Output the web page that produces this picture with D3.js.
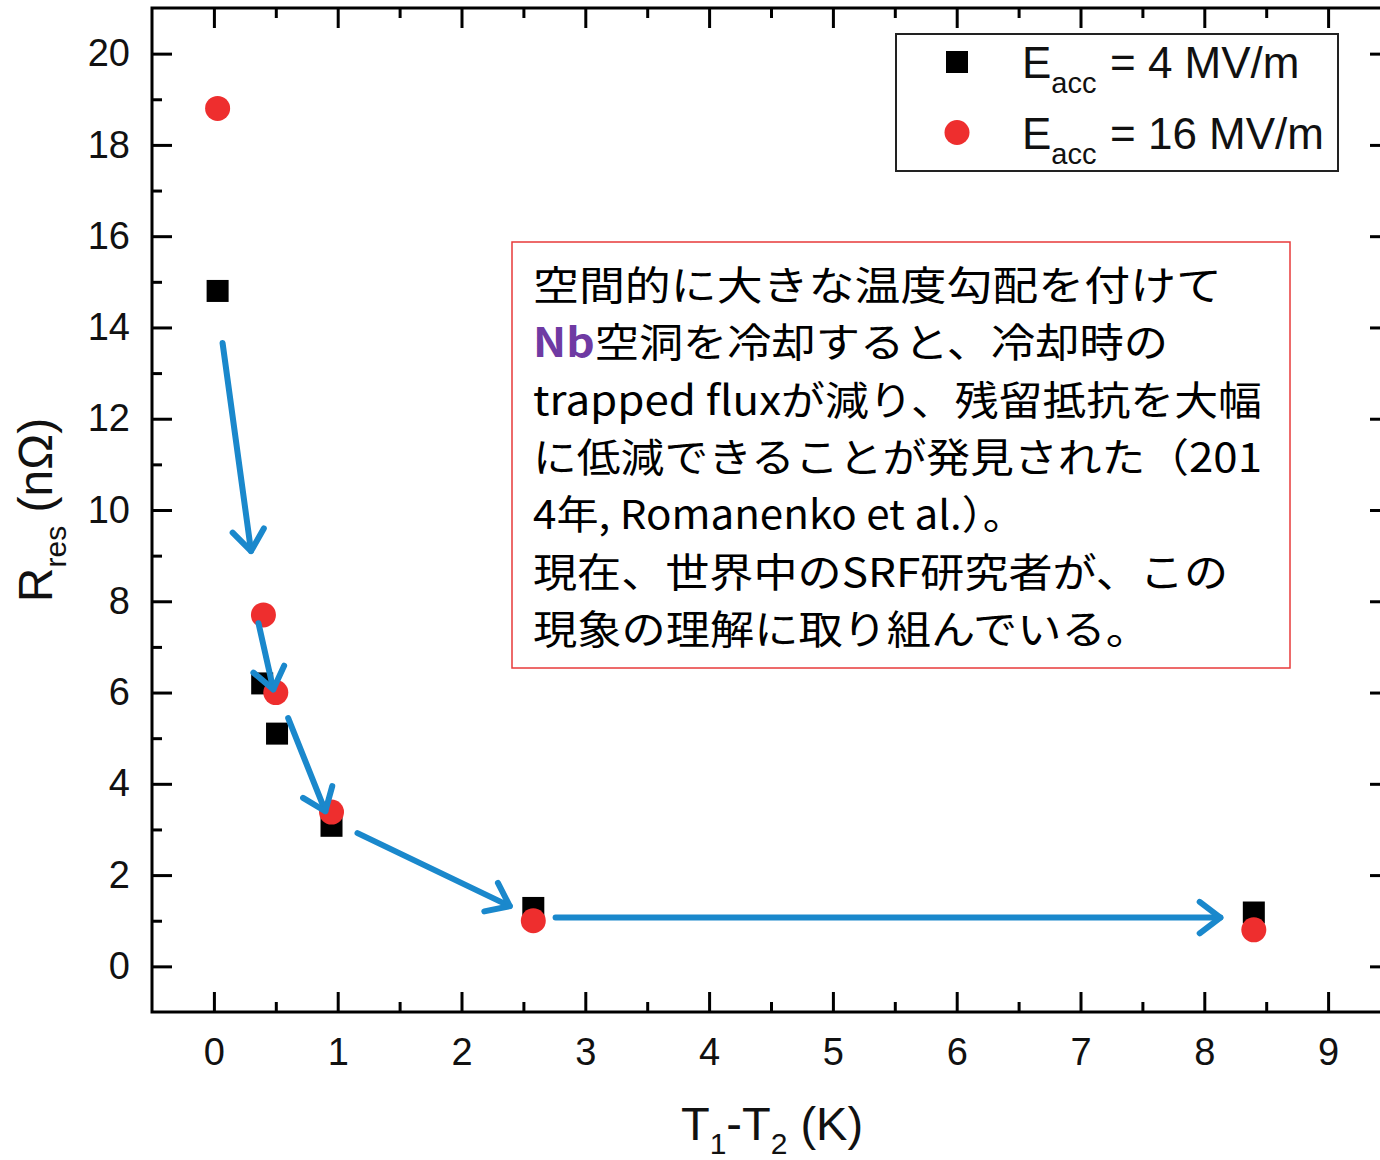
<!DOCTYPE html>
<html>
<head>
<meta charset="utf-8">
<script src="https://cdn.jsdelivr.net/npm/d3@7"></script>
<style>
  html, body { margin: 0; padding: 0; background: #fff; }
  svg { display: block; }
</style>
</head>
<body>
<script>
// ---- data ----
const sqX = [0.03, 0.39, 0.51, 0.95, 2.58, 8.40];          // E_acc = 4 MV/m
const sqY = [14.8, 6.2, 5.1, 3.08, 1.28, 1.18];
const ciX = [0.03, 0.40, 0.50, 0.95, 2.58, 8.40];          // E_acc = 16 MV/m
const ciY = [18.8, 7.7, 6.0, 3.38, 1.0, 0.8];
const xTicks = [0, 1, 2, 3, 4, 5, 6, 7, 8, 9];
const xMinor = [0.5, 1.5, 2.5, 3.5, 4.5, 5.5, 6.5, 7.5, 8.5];
const yTicks = [0, 2, 4, 6, 8, 10, 12, 14, 16, 18, 20];
const yMinor = [1, 3, 5, 7, 9, 11, 13, 15, 17, 19];
const legendLabels = ["= 4 MV/m", "= 16 MV/m"];
// annotation arrows (data coordinates): [x0, y0, x1, y1]
const arrows = [
  [0.07, 13.66, 0.30, 9.10],
  [0.36, 7.52, 0.48, 6.07],
  [0.60, 5.44, 0.90, 3.40],
  [1.16, 2.92, 2.39, 1.32],
  [2.76, 1.07, 8.13, 1.07]
];
const noteLines = [
  [{t: "空間的に大きな温度勾配を付けて"}],
  [{t: "Nb", nb: true}, {t: "空洞を冷却すると、冷却時の"}],
  [{t: "trapped fluxが減り、残留抵抗を大幅"}],
  [{t: "に低減できることが発見された（201"}],
  [{t: "4年, Romanenko et al.）。"}],
  [{t: "現在、世界中のSRF研究者が、この"}],
  [{t: "現象の理解に取り組んでいる。"}]
];
// layout only: rendered width of each note line
const noteWidths = [689, 635, 729, 729, 492, 695, 617];

// ---- layout ----
const W = 1380, H = 1160;
const pL = 152, pR = 1390, pT = 8, pB = 1012;
const RED = "#ee2e2e", BLUE = "#1a88cc";
const font = "'Liberation Sans', Arial, sans-serif";

const svg = d3.select("body").append("svg").attr("width", W).attr("height", H);
const x = d3.scaleLinear().domain([-0.5, 9.5]).range([pL, pR]);
const y = d3.scaleLinear().domain([-1, 21]).range([pB, pT]);

function styleAxis(g, fs) {
  g.select(".domain").remove();
  g.selectAll(".tick line").attr("stroke", "#000").attr("stroke-width", 3);
  g.selectAll(".tick text").attr("font-family", font).attr("font-size", fs).attr("fill", "#111");
}
// major & minor ticks on four sides
svg.append("g").attr("transform", `translate(0,${pB})`)
  .call(d3.axisBottom(x).tickValues(xTicks).tickSize(-20).tickPadding(26).tickFormat(d3.format("d")))
  .call(g => styleAxis(g, 38));
svg.append("g").attr("transform", `translate(0,${pB})`)
  .call(d3.axisBottom(x).tickValues(xMinor).tickSize(-10).tickFormat(""))
  .call(g => styleAxis(g, 38));
svg.append("g").attr("transform", `translate(0,${pT})`)
  .call(d3.axisTop(x).tickValues(xTicks).tickSize(-20).tickFormat(""))
  .call(g => styleAxis(g, 38));
svg.append("g").attr("transform", `translate(0,${pT})`)
  .call(d3.axisTop(x).tickValues(xMinor).tickSize(-10).tickFormat(""))
  .call(g => styleAxis(g, 38));
svg.append("g").attr("transform", `translate(${pL},0)`)
  .call(d3.axisLeft(y).tickValues(yTicks).tickSize(-20).tickPadding(22).tickFormat(d3.format("d")))
  .call(g => styleAxis(g, 38));
svg.append("g").attr("transform", `translate(${pL},0)`)
  .call(d3.axisLeft(y).tickValues(yMinor).tickSize(-10).tickFormat(""))
  .call(g => styleAxis(g, 38));
svg.append("g").attr("transform", `translate(${pR},0)`)
  .call(d3.axisRight(y).tickValues(yTicks).tickSize(-20).tickFormat(""))
  .call(g => styleAxis(g, 38));
svg.append("g").attr("transform", `translate(${pR},0)`)
  .call(d3.axisRight(y).tickValues(yMinor).tickSize(-10).tickFormat(""))
  .call(g => styleAxis(g, 38));

// frame
svg.append("rect").attr("x", pL).attr("y", pT).attr("width", pR - pL).attr("height", pB - pT)
  .attr("fill", "none").attr("stroke", "#000").attr("stroke-width", 3);

// axis titles
const xt = svg.append("text").attr("x", 772).attr("y", 1140).attr("text-anchor", "middle")
  .attr("font-family", font).attr("font-size", 47).attr("fill", "#111");
xt.append("tspan").text("T");
xt.append("tspan").attr("dy", 14).attr("font-size", 30).text("1");
xt.append("tspan").attr("dy", -14).text("-T");
xt.append("tspan").attr("dy", 14).attr("font-size", 30).text("2");
xt.append("tspan").attr("dy", -14).text(" (K)");

const yt = svg.append("text").attr("transform", "translate(52,510) rotate(-90)").attr("text-anchor", "middle")
  .attr("font-family", font).attr("font-size", 48).attr("fill", "#111");
yt.append("tspan").text("R");
yt.append("tspan").attr("dy", 14).attr("font-size", 30).text("res");
yt.append("tspan").attr("dy", -14).text(" (nΩ)");

// annotation box
svg.append("rect").attr("x", 512).attr("y", 242).attr("width", 778).attr("height", 426)
  .attr("fill", "#fff").attr("stroke", "#e83a3a").attr("stroke-width", 1.5);
const note = svg.append("g");
noteLines.forEach((segs, i) => {
  const t = note.append("text").attr("x", 533).attr("y", 283 + 57.3 * i)
    .attr("dominant-baseline", "central")
    .attr("textLength", noteWidths[i]).attr("lengthAdjust", "spacingAndGlyphs")
    .attr("font-family", "'Noto Sans CJK JP', 'Noto Sans', sans-serif").attr("font-size", 40).attr("fill", "#000");
  segs.forEach(s => {
    const sp = t.append("tspan").text(s.t);
    if (s.nb) sp.attr("fill", "#6f3aa3").attr("font-weight", "bold");
  });
});

// data markers
const S = 22;
svg.append("g").selectAll("rect").data(sqX).join("rect")
  .attr("x", (d, i) => x(d) - S / 2).attr("y", (d, i) => y(sqY[i]) - S / 2)
  .attr("width", S).attr("height", S).attr("fill", "#000");
svg.append("g").selectAll("circle").data(ciX).join("circle")
  .attr("cx", d => x(d)).attr("cy", (d, i) => y(ciY[i])).attr("r", 12.5).attr("fill", RED);

// arrows (drawn over markers)
const ag = svg.append("g").attr("stroke", BLUE).attr("stroke-width", 6).attr("fill", "none")
  .attr("stroke-linecap", "round").attr("stroke-linejoin", "round");
arrows.forEach(a => {
  const x0 = x(a[0]), y0 = y(a[1]), x1 = x(a[2]), y1 = y(a[3]);
  ag.append("line").attr("x1", x0).attr("y1", y0).attr("x2", x1).attr("y2", y1);
  const ang = Math.atan2(y1 - y0, x1 - x0), L = 26, sp = 0.65;
  const p1 = [x1 - L * Math.cos(ang - sp), y1 - L * Math.sin(ang - sp)];
  const p2 = [x1 - L * Math.cos(ang + sp), y1 - L * Math.sin(ang + sp)];
  ag.append("path").attr("d", `M${p1[0]},${p1[1]}L${x1},${y1}L${p2[0]},${p2[1]}`);
});

// legend
svg.append("rect").attr("x", 896).attr("y", 34).attr("width", 442).attr("height", 137)
  .attr("fill", "#fff").attr("stroke", "#222").attr("stroke-width", 2);
legendLabels.forEach((lab, i) => {
  const cy = 62 + 70.5 * i;
  if (i === 0) svg.append("rect").attr("x", 957 - 11).attr("y", cy - 11).attr("width", 22).attr("height", 22).attr("fill", "#000");
  else svg.append("circle").attr("cx", 957).attr("cy", cy).attr("r", 12.5).attr("fill", RED);
  const t = svg.append("text").attr("x", 1022).attr("y", cy + 16)
    .attr("font-family", font).attr("font-size", 44).attr("fill", "#111");
  t.append("tspan").text("E");
  t.append("tspan").attr("dy", 15).attr("font-size", 29).text("acc");
  t.append("tspan").attr("x", 1110).attr("dy", -15).text(lab);
});
</script>
</body>
</html>
